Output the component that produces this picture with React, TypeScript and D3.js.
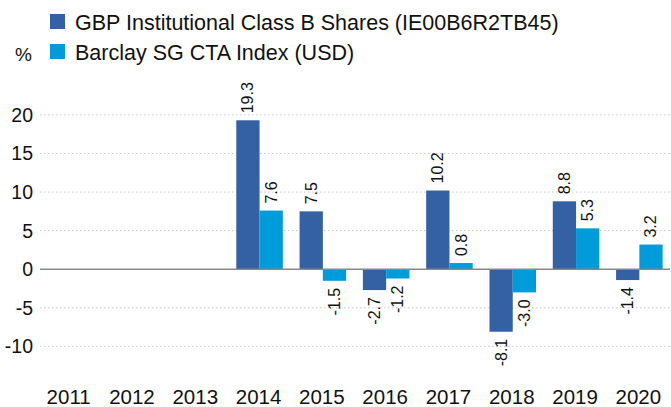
import React from "react";
import * as d3 from "d3";

const years = ["2011", "2012", "2013", "2014", "2015", "2016", "2017", "2018", "2019", "2020"];
const fundValues: (number | null)[] = [null, null, null, 19.3, 7.5, -2.7, 10.2, -8.1, 8.8, -1.4];
const indexValues: (number | null)[] = [null, null, null, 7.6, -1.5, -1.2, 0.8, -3.0, 5.3, 3.2];
const yTicks = [-10, -5, 0, 5, 10, 15, 20];
const seriesNames = ["GBP Institutional Class B Shares (IE00B6R2TB45)", "Barclay SG CTA Index (USD)"];
const seriesColors = ["#3461a3", "#009bd9"];

const W = 671;
const H = 407;
const FONT = "'Liberation Sans', Arial, Helvetica, sans-serif";

export default function App() {
  const x = d3.scaleBand<string>().domain(years).range([38, 671]).paddingInner(0).paddingOuter(0);
  const x1 = d3.scaleBand<string>().domain(["0", "1"]).range([0, x.bandwidth()]).paddingInner(0).paddingOuter(0.36);
  const y = d3.scaleLinear().domain([-15, 25]).range([385, 76.3]);
  const series = [fundValues, indexValues];

  return (
    <div style={{ position: "absolute", left: 0, top: 0 }}>
      <svg width={W} height={H} style={{ display: "block", fontFamily: FONT }}>
        <rect width={W} height={H} fill="#fff" />
        {yTicks.map((t) => (
          <g key={t}>
            {t !== 0 && (
              <line x1={40} x2={670} y1={y(t)} y2={y(t)} stroke="#c8c8c8" strokeWidth={1} strokeDasharray="1.5,2.5" />
            )}
            <text x={33} y={y(t)} dy="0.36em" textAnchor="end" fontSize={19.5} fill="#111">
              {t}
            </text>
          </g>
        ))}
        {series.map((vals, si) =>
          vals.map((v, i) => {
            if (v === null) return null;
            const bx = (x(years[i]) as number) + (x1(String(si)) as number);
            const bw = x1.bandwidth();
            const y0 = y(0);
            const yv = y(v);
            return (
              <rect key={`b${si}-${i}`} x={bx} width={bw} y={Math.min(y0, yv)} height={Math.abs(yv - y0)} fill={seriesColors[si]} />
            );
          })
        )}
        <line x1={40} x2={670} y1={y(0)} y2={y(0)} stroke="#888" strokeWidth={1.3} />
        {series.map((vals, si) =>
          vals.map((v, i) => {
            if (v === null) return null;
            const cx = (x(years[i]) as number) + (x1(String(si)) as number) + x1.bandwidth() / 2;
            const pos = v >= 0;
            const ly = pos ? y(v) - 7 : y(v) + 7;
            return (
              <text
                key={`l${si}-${i}`}
                transform={`translate(${cx + 5.5},${ly}) rotate(-90)`}
                textAnchor={pos ? "start" : "end"}
                fontSize={16}
                fill="#111"
              >
                {v.toFixed(1)}
              </text>
            );
          })
        )}
        {years.map((yr) => (
          <text key={yr} x={(x(yr) as number) + x.bandwidth() / 2 - 1} y={404} textAnchor="middle" fontSize={20.5} fill="#111">
            {yr}
          </text>
        ))}
        <rect x={50} y={14} width={15} height={15} fill={seriesColors[0]} />
        <rect x={50} y={44} width={15} height={15} fill={seriesColors[1]} />
        <text x={75} y={30} fontSize={21.5} fill="#111">{seriesNames[0]}</text>
        <text x={75} y={60} fontSize={21.5} fill="#111">{seriesNames[1]}</text>
        <text x={15} y={61} fontSize={19} fill="#111">%</text>
      </svg>
    </div>
  );
}
